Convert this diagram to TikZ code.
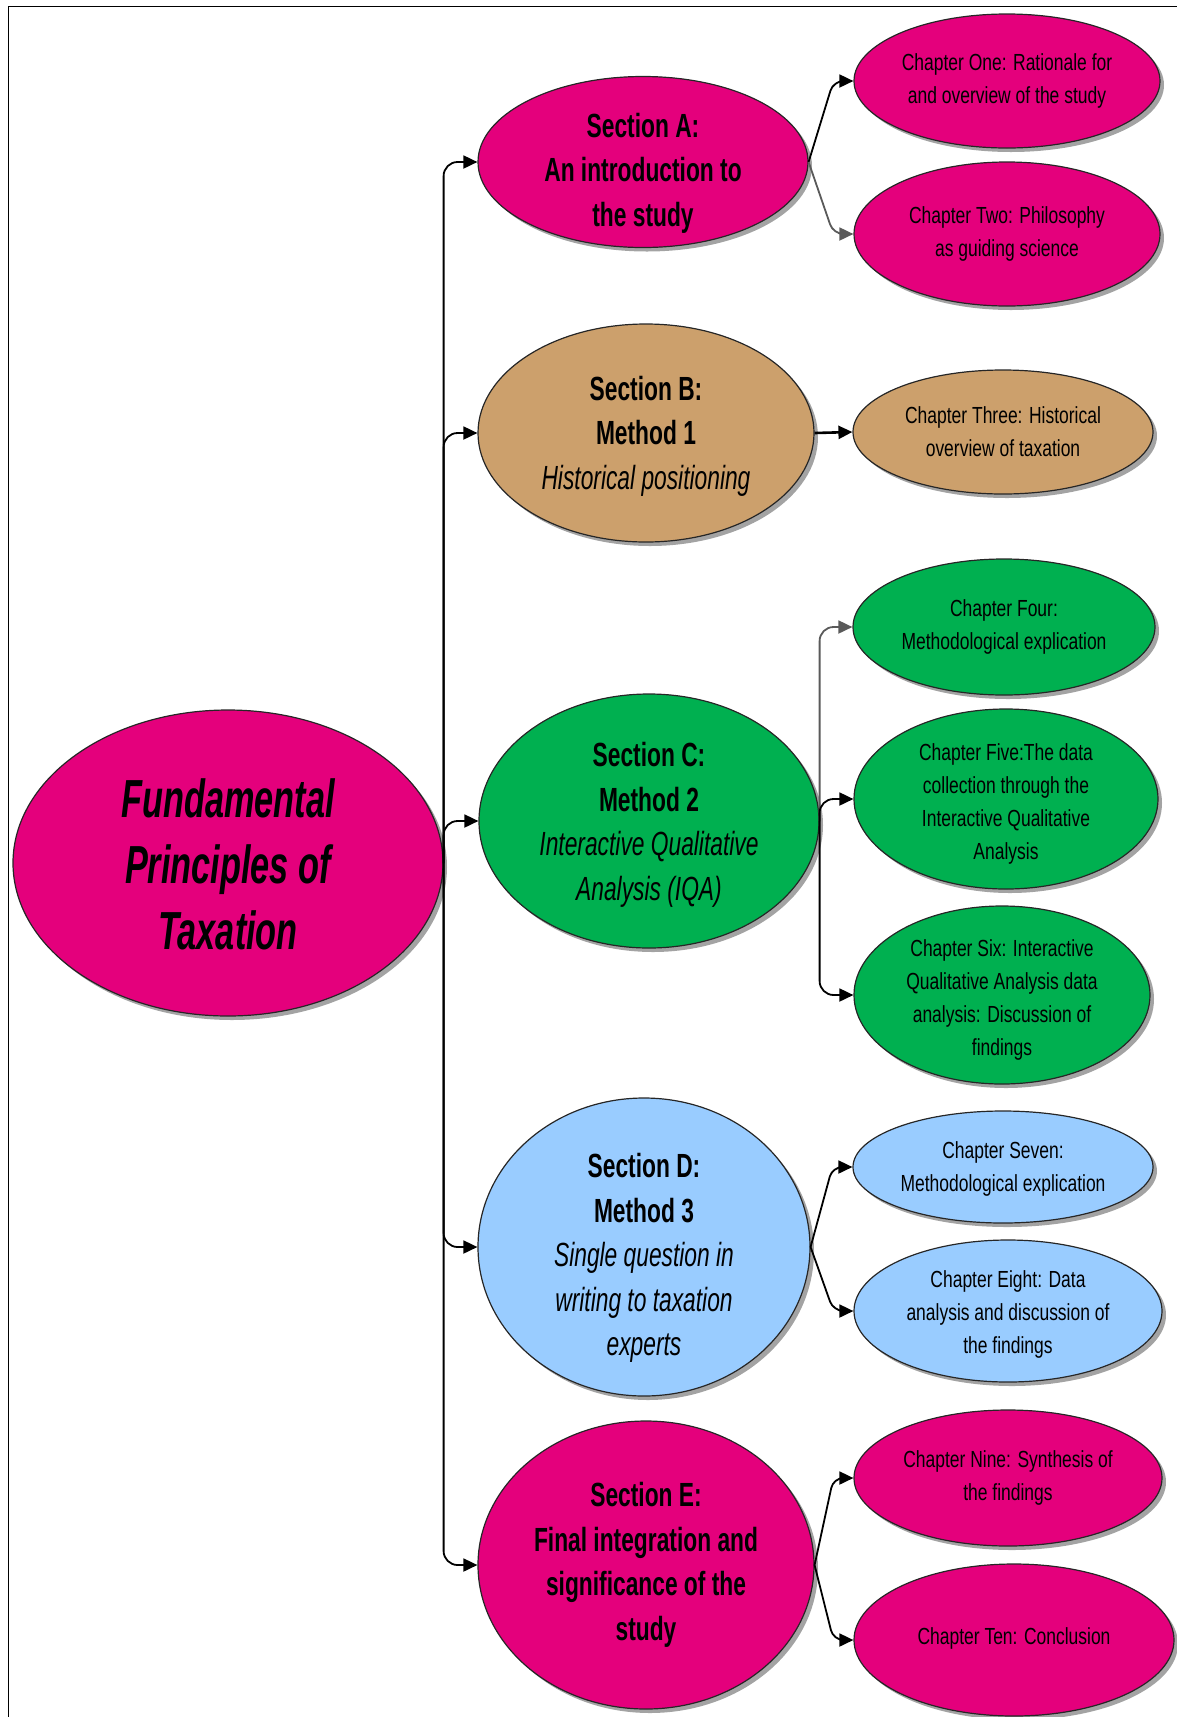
\documentclass[tikz,border=0pt]{standalone}
\usepackage{fontspec}
\setmainfont{Liberation Sans}
\newfontfamily\chapfont{Liberation Sans}[FakeStretch=0.75]
\newfontfamily\secfont{Liberation Sans}[FakeStretch=0.68]
\newfontfamily\titlefont{Liberation Sans}[FakeStretch=0.64]
\usetikzlibrary{shapes.geometric,shadows,arrows.meta}

\definecolor{magentafill}{RGB}{228,0,124}
\definecolor{tanfill}{RGB}{204,160,108}
\definecolor{greenfill}{RGB}{0,176,80}
\definecolor{bluefill}{RGB}{153,204,255}
\definecolor{linkgray}{RGB}{90,90,90}

\begin{document}
\begin{tikzpicture}[x=1pt,y=-1pt,
  bubble/.style={ellipse, draw=black!85, line width=1.2pt, inner sep=0pt,
    drop shadow={shadow xshift=4pt, shadow yshift=-4pt, fill=black!45, opacity=0.8}},
  chaptext/.style={font=\chapfont\fontsize{23.3}{33}\selectfont, align=center},
  sectext/.style={font=\secfont\fontsize{33.5}{44.5}\selectfont\bfseries, align=center},
  titletext/.style={font=\titlefont\fontsize{53.6}{66}\selectfont\bfseries\itshape, align=center},
  conn/.style={line width=1.8pt, draw=black, -{Triangle[length=14pt,width=13pt]}, rounded corners=14pt},
  grayconn/.style={conn, draw=linkgray},
  slant/.style={conn, rounded corners=10pt}
]
\useasboundingbox (0,0) rectangle (1177,1717);

% frame
\draw[line width=1.5pt] (8.5,1717) -- (8.5,6.5) -- (1177,6.5);

% root
\node[bubble, fill=magentafill, minimum width=430pt, minimum height=306pt,
  label={[titletext, yshift=-1pt]center:{Fundamental\\Principles of\\Taxation}}] (main) at (228,863) {};

% sections
\node[bubble, fill=magentafill, minimum width=330pt, minimum height=171pt,
  label={[sectext, yshift=-11pt]center:{Section A:\\An introduction to\\the study}}] (secA) at (643,162) {};
\node[bubble, fill=tanfill, minimum width=336pt, minimum height=218pt,
  label={[sectext, yshift=-3pt]center:{Section B:\\Method 1\\\mdseries\itshape Historical positioning}}] (secB) at (646,433) {};
\node[bubble, fill=greenfill, minimum width=340pt, minimum height=254pt,
  label={[sectext, yshift=-4pt]center:{Section C:\\Method 2\\\mdseries\itshape Interactive Qualitative\\\mdseries\itshape Analysis (IQA)}}] (secC) at (649,821) {};
\node[bubble, fill=bluefill, minimum width=332pt, minimum height=298pt,
  label={[sectext, yshift=-11pt]center:{Section D:\\Method 3\\\mdseries\itshape Single question in\\\mdseries\itshape writing to taxation\\\mdseries\itshape experts}}] (secD) at (644,1247) {};
\node[bubble, fill=magentafill, minimum width=336pt, minimum height=288pt,
  label={[sectext]center:{Section E:\\Final integration and\\significance of the\\study}}] (secE) at (646,1565) {};

% chapters
\node[bubble, fill=magentafill, minimum width=306pt, minimum height=134pt,
  label={[chaptext]center:{Chapter One: Rationale for\\and overview of the study}}] (ch1) at (1007,81) {};
\node[bubble, fill=magentafill, minimum width=306pt, minimum height=144pt,
  label={[chaptext]center:{Chapter Two: Philosophy\\as guiding science}}] (ch2) at (1007,234) {};
\node[bubble, fill=tanfill, minimum width=300pt, minimum height=124pt,
  label={[chaptext]center:{Chapter Three: Historical\\overview of taxation}}] (ch3) at (1003,432) {};
\node[bubble, fill=greenfill, minimum width=302pt, minimum height=136pt,
  label={[chaptext]center:{Chapter Four:\\Methodological explication}}] (ch4) at (1004,627) {};
\node[bubble, fill=greenfill, minimum width=304pt, minimum height=180pt,
  label={[chaptext, yshift=-5pt]center:{Chapter Five:The data\\collection through the\\Interactive Qualitative\\Analysis}}] (ch5) at (1006,799) {};
\node[bubble, fill=greenfill, minimum width=296pt, minimum height=178pt,
  label={[chaptext, yshift=-5pt]center:{Chapter Six: Interactive\\Qualitative Analysis data\\analysis: Discussion of\\findings}}] (ch6) at (1002,995) {};
\node[bubble, fill=bluefill, minimum width=300pt, minimum height=112pt,
  label={[chaptext, yshift=-2pt]center:{Chapter Seven:\\Methodological explication}}] (ch7) at (1003,1167) {};
\node[bubble, fill=bluefill, minimum width=308pt, minimum height=142pt,
  label={[chaptext, yshift=-3pt]center:{Chapter Eight: Data\\analysis and discussion of\\the findings}}] (ch8) at (1008,1311) {};
\node[bubble, fill=magentafill, minimum width=308pt, minimum height=136pt,
  label={[chaptext]center:{Chapter Nine: Synthesis of\\the findings}}] (ch9) at (1008,1478) {};
\node[bubble, fill=magentafill, minimum width=320pt, minimum height=152pt,
  label={[chaptext, yshift=2pt]center:{Chapter Ten: Conclusion}}] (ch10) at (1014,1640) {};

% root to sections
\draw[conn] (main.east) |- (secA.west);
\draw[conn] (main.east) |- (secB.west);
\draw[conn] (main.east) |- (secC.west);
\draw[conn] (main.east) |- (secD.west);
\draw[conn] (main.east) |- (secE.west);

% sections to chapters
\draw[slant] (secA.east) -- ([xshift=-20pt]ch1.west) -- (ch1.west);
\draw[slant, draw=linkgray] (secA.east) -- ([xshift=-20pt]ch2.west) -- (ch2.west);
\draw[conn, line width=2.6pt] (secB.east) -- (ch3.west);
\draw[grayconn] (secC.east) |- (ch4.west);
\draw[conn] (secC.east) |- (ch5.west);
\draw[conn] (secC.east) |- (ch6.west);
\draw[slant] (secD.east) -- ([xshift=-20pt]ch7.west) -- (ch7.west);
\draw[slant] (secD.east) -- ([xshift=-20pt]ch8.west) -- (ch8.west);
\draw[slant] (secE.east) -- ([xshift=-20pt]ch9.west) -- (ch9.west);
\draw[slant] (secE.east) -- ([xshift=-20pt]ch10.west) -- (ch10.west);
\end{tikzpicture}
\end{document}
